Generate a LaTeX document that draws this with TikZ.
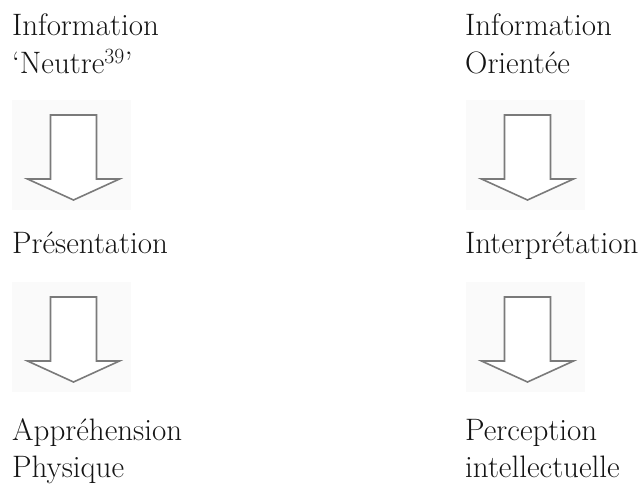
\documentclass[tikz,border=0pt]{standalone}
\usepackage{fontspec}
\begin{document}
\begin{tikzpicture}[x=1pt,y=-1pt,
  lbl/.style={anchor=base west,inner sep=0pt,font=\fontsize{31}{37}\selectfont,text=black!92},
  arrowbg/.style={fill=black!2,draw=none},
  blockarrow/.style={draw=black!52,line width=1.6pt,fill=white,line join=miter},
  pics/downarrow/.style={code={
    \fill[arrowbg] (-62,-15) rectangle (57,95);
    \draw[blockarrow] (-23,0) -- (23,0) -- (23,64) -- (46,64) -- (0,85) -- (-46,64) -- (-23,64) -- cycle;
  }}]
\useasboundingbox (0,0) rectangle (643,490);
% left column
\node[lbl] (l1) at (12,35) {Information};
\node[lbl] (l2) at (12,73) {`Neutre\textsuperscript{39}'};
\pic (la1) at (73.5,115) {downarrow};
\node[lbl] (l3) at (12,253) {Présentation};
\pic (la2) at (73.5,297) {downarrow};
\node[lbl] (l4) at (12,440) {Appréhension};
\node[lbl] (l5) at (12,477) {Physique};
% right column
\node[lbl] (r1) at (465,35) {Information};
\node[lbl] (r2) at (465,73) {Orientée};
\pic (ra1) at (527.5,115) {downarrow};
\node[lbl] (r3) at (465,253) {Interprétation};
\pic (ra2) at (527.5,297) {downarrow};
\node[lbl] (r4) at (465,440) {Perception};
\node[lbl] (r5) at (465,477) {intellectuelle};
\end{tikzpicture}
\end{document}
